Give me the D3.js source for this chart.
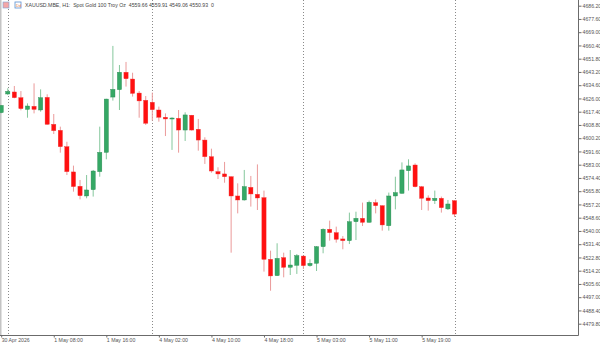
<!DOCTYPE html>
<html>
<head>
<meta charset="utf-8">
<script src="https://d3js.org/d3.v7.min.js"></script>
<style>
  body { margin: 0; background: #fff; }
  svg { display: block; font-family: "Liberation Sans", Arial, sans-serif; }
</style>
</head>
<body>
<svg width="600" height="343"></svg>
<script>
// bar times (H1)
const times = [
  "2026-04-30 23:00",
  "2026-05-01 01:00","2026-05-01 02:00","2026-05-01 03:00","2026-05-01 04:00","2026-05-01 05:00","2026-05-01 06:00",
  "2026-05-01 07:00","2026-05-01 08:00","2026-05-01 09:00","2026-05-01 10:00","2026-05-01 11:00","2026-05-01 12:00",
  "2026-05-01 13:00","2026-05-01 14:00","2026-05-01 15:00","2026-05-01 16:00","2026-05-01 17:00","2026-05-01 18:00",
  "2026-05-01 19:00","2026-05-01 20:00","2026-05-01 21:00","2026-05-01 22:00",
  "2026-05-04 01:00","2026-05-04 02:00","2026-05-04 03:00","2026-05-04 04:00","2026-05-04 05:00","2026-05-04 06:00",
  "2026-05-04 07:00","2026-05-04 08:00","2026-05-04 09:00","2026-05-04 10:00","2026-05-04 11:00","2026-05-04 12:00",
  "2026-05-04 13:00","2026-05-04 14:00","2026-05-04 15:00","2026-05-04 16:00","2026-05-04 17:00","2026-05-04 18:00",
  "2026-05-04 19:00","2026-05-04 20:00","2026-05-04 21:00","2026-05-04 22:00","2026-05-04 23:00",
  "2026-05-05 01:00","2026-05-05 02:00","2026-05-05 03:00","2026-05-05 04:00","2026-05-05 05:00","2026-05-05 06:00",
  "2026-05-05 07:00","2026-05-05 08:00","2026-05-05 09:00","2026-05-05 10:00","2026-05-05 11:00","2026-05-05 12:00",
  "2026-05-05 13:00","2026-05-05 14:00","2026-05-05 15:00","2026-05-05 16:00","2026-05-05 17:00","2026-05-05 18:00",
  "2026-05-05 19:00","2026-05-05 20:00","2026-05-05 21:00","2026-05-05 22:00","2026-05-05 23:00",
  "2026-05-06 01:00"
];

const open = [4616.8,4628.9,4630.2,4626.5,4618.9,4620.9,4618.5,4626.7,4609.2,4605.3,
  4594.7,4578.3,4569.0,4562.7,4566.8,4578.5,4591.0,4626.9,4631.7,4643.0,
  4638.6,4629.5,4624.8,4623.5,4618.5,4613.8,4612.7,4613.1,4605.5,4615.1,
  4606.0,4599.0,4588.2,4578.5,4577.0,4575.2,4562.7,4560.1,4568.3,4563.8,
  4561.6,4521.6,4511.0,4522.7,4516.4,4517.7,4523.7,4517.5,4519.0,4529.8,
  4541.1,4538.9,4534.8,4533.7,4546.0,4548.2,4545.6,4558.4,4556.4,4543.4,
  4562.7,4564.4,4579.1,4582.8,4568.7,4561.4,4559.7,4561.2,4554.3,4559.66];
const high = [4621.6,4632.6,4634.1,4630.8,4622.8,4635.8,4631.9,4628.7,4615.9,4607.7,
  4597.9,4582.4,4573.1,4576.3,4579.6,4607.7,4625.8,4660.1,4647.7,4649.7,
  4642.7,4630.8,4627.6,4629.8,4620.7,4616.3,4613.8,4618.5,4617.0,4615.3,
  4612.7,4600.8,4593.4,4581.3,4584.8,4575.4,4570.9,4579.6,4575.7,4583.2,
  4566.2,4527.2,4532.0,4525.9,4527.6,4525.0,4523.9,4521.6,4530.2,4541.7,
  4546.7,4542.8,4536.7,4551.9,4552.5,4558.4,4559.7,4560.5,4556.6,4564.9,
  4575.2,4584.5,4586.5,4583.9,4569.2,4563.1,4566.2,4562.3,4560.1,4559.91];
const low = [4616.4,4628.2,4626.1,4618.3,4613.5,4616.3,4617.4,4609.0,4602.9,4590.8,
  4576.3,4565.5,4560.5,4561.2,4562.3,4575.2,4586.5,4624.6,4618.5,4633.7,
  4627.2,4613.5,4608.8,4611.6,4610.9,4601.6,4592.6,4590.8,4598.4,4605.1,
  4592.1,4583.5,4577.8,4573.7,4571.3,4525.9,4551.4,4559.7,4555.8,4553.6,
  4513.6,4501.2,4510.8,4509.9,4511.4,4512.1,4515.3,4516.8,4514.0,4525.5,
  4533.7,4532.4,4528.1,4531.5,4534.1,4543.2,4545.4,4551.4,4540.2,4540.2,
  4554.0,4564.2,4566.2,4568.3,4553.6,4553.2,4557.5,4551.9,4553.6,4549.06];
const close = [4621.5,4630.6,4626.5,4619.4,4621.1,4618.9,4626.5,4609.2,4605.1,4594.7,
  4578.5,4568.8,4562.9,4566.6,4578.9,4591.0,4625.6,4631.9,4643.0,4638.8,
  4629.3,4624.4,4609.9,4618.7,4613.8,4612.7,4613.3,4605.5,4615.3,4605.5,
  4599.0,4588.2,4578.9,4577.0,4575.2,4562.7,4560.1,4568.8,4564.0,4561.4,
  4521.6,4510.8,4522.2,4516.4,4517.9,4524.0,4517.5,4519.0,4529.8,4541.1,
  4538.9,4534.6,4533.7,4546.0,4548.2,4545.6,4558.6,4556.4,4543.9,4562.7,
  4564.9,4579.6,4582.2,4568.7,4561.2,4559.7,4561.2,4555.1,4557.5,4550.93];

const priceTicks = [4686.20,4677.60,4669.00,4660.40,4651.80,4643.20,4634.60,4626.00,4617.40,
  4608.80,4600.20,4591.60,4583.00,4574.40,4565.80,4557.20,4548.60,4540.00,4531.40,4522.80,
  4514.20,4505.60,4497.00,4488.40,4479.80];

const tickTimes = ["2026-04-30 23:00","2026-05-01 08:00","2026-05-01 16:00","2026-05-04 02:00",
  "2026-05-04 10:00","2026-05-04 18:00","2026-05-05 03:00","2026-05-05 11:00","2026-05-05 19:00"];
const tickLabels = ["30 Apr 2026","1 May 08:00","1 May 16:00","4 May 02:00",
  "4 May 10:00","4 May 18:00","5 May 03:00","5 May 11:00","5 May 19:00"];

const title = "XAUUSD.MBE, H1:  Spot Gold 100 Troy Oz  4559.66 4559.91 4549.06 4550.93  0";

const bars = times.map((t, i) => ({t, o: open[i], h: high[i], l: low[i], c: close[i]}));

const plotR = 578, plotB = 335;
const svg = d3.select("svg");

const x = d3.scalePoint().domain(times).range([1.2, 454.5]);
const y = d3.scaleLinear().domain([4479.8, 4686.2]).range([323.7, 5.7]);

// left edge bar
svg.append("rect").attr("x", 0).attr("y", 0).attr("width", 1.5).attr("height", plotB)
  .attr("fill", "#c4c4c4");

// day separators
const sep = times.filter((t, i) => i > 0 && t.slice(0, 10) !== times[i - 1].slice(0, 10));
svg.append("g").selectAll("line").data(sep).enter().append("line")
  .attr("x1", d => Math.round(x(d)) + 0.5).attr("x2", d => Math.round(x(d)) + 0.5)
  .attr("y1", 0).attr("y2", plotB)
  .attr("stroke", "#8a8a8a").attr("stroke-width", 1).attr("stroke-dasharray", "1,2");

// candles
const up = d => d.c >= d.o;
const g = svg.append("g");
g.selectAll("line").data(bars).enter().append("line")
  .attr("x1", d => x(d.t)).attr("x2", d => x(d.t))
  .attr("y1", d => y(d.h)).attr("y2", d => y(d.l))
  .attr("stroke", d => up(d) ? "#85c79c" : "#eb9a9a").attr("stroke-width", 1);
g.selectAll("rect").data(bars).enter().append("rect")
  .attr("x", d => x(d.t) - 2.1).attr("width", 4.2)
  .attr("y", d => y(Math.max(d.o, d.c)))
  .attr("height", d => Math.max(1, Math.abs(y(d.o) - y(d.c))))
  .attr("fill", d => up(d) ? "#35a865" : "#ff1010")
  .attr("stroke", d => up(d) ? "#2a8a52" : "#f03030").attr("stroke-width", 0.4);

// frame
svg.append("line").attr("x1", plotR + 0.5).attr("x2", plotR + 0.5).attr("y1", 0).attr("y2", plotB + 0.5)
  .attr("stroke", "#6b6b6b");
svg.append("line").attr("x1", 0).attr("x2", plotR + 0.5).attr("y1", plotB + 0.5).attr("y2", plotB + 0.5)
  .attr("stroke", "#6b6b6b");

// price axis
const ya = svg.append("g").attr("transform", `translate(${plotR + 0.5},0)`)
  .call(d3.axisRight(y).tickValues(priceTicks).tickSize(3).tickPadding(1)
    .tickFormat(d => d.toFixed(2)));
ya.select(".domain").remove();
ya.selectAll("line").attr("stroke", "#6b6b6b");
ya.selectAll("text").attr("font-size", 5.2).attr("fill", "#555")
  .attr("font-family", "Liberation Sans, Arial, sans-serif");

// time axis
const xa = svg.append("g").attr("transform", `translate(0,${plotB + 0.5})`)
  .call(d3.axisBottom(x).tickValues(tickTimes).tickSize(2).tickPadding(1)
    .tickFormat((d, i) => tickLabels[i]));
xa.select(".domain").remove();
xa.selectAll("line").attr("stroke", "#6b6b6b");
xa.selectAll("text").attr("text-anchor", "start").attr("font-size", 5.2).attr("fill", "#555")
  .attr("font-family", "Liberation Sans, Arial, sans-serif").attr("dy", "0.6em");

// header icons and text
svg.append("rect").attr("x", 3).attr("y", 2).attr("width", 6).attr("height", 6)
  .attr("fill", "#f4a6a6").attr("stroke", "#7aa6d8").attr("stroke-width", 0.6);
svg.append("rect").attr("x", 15).attr("y", 2).attr("width", 6).attr("height", 6)
  .attr("fill", "#fff").attr("stroke", "#5b8fd0").attr("stroke-width", 0.8);
svg.append("text").attr("x", 16).attr("y", 7).attr("font-size", 4).attr("fill", "#e07a3a").text("Dd");
svg.append("text").attr("x", 25).attr("y", 7.2).attr("font-size", 5.2).attr("fill", "#444")
  .attr("xml:space", "preserve").style("white-space", "pre").text(title);
</script>
</body>
</html>
